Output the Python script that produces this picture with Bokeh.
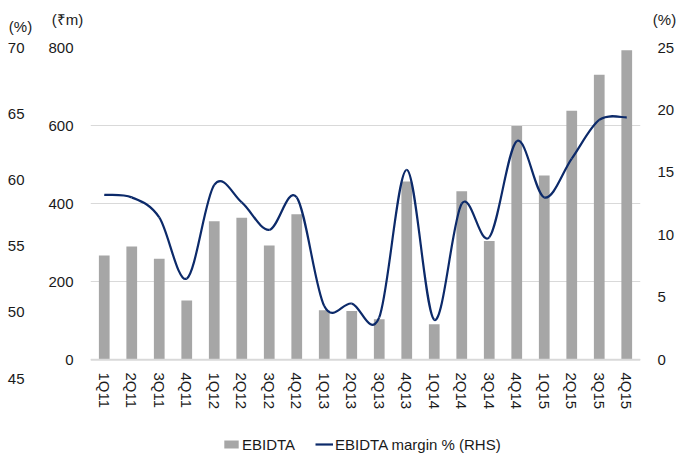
from bokeh.plotting import figure
from bokeh.layouts import column
from bokeh.models import (Range1d, LinearAxis, FixedTicker, Legend,
                          LegendItem, Span)
from bokeh.core.properties import value
from bokeh.embed import file_html
from bokeh.resources import INLINE

quarters = ["1Q11", "2Q11", "3Q11", "4Q11", "1Q12", "2Q12", "3Q12", "4Q12",
            "1Q13", "2Q13", "3Q13", "4Q13", "1Q14", "2Q14", "3Q14", "4Q14",
            "1Q15", "2Q15", "3Q15", "4Q15"]
ebidta = [267, 290, 259, 152, 355, 364, 293, 373, 127, 125, 104, 457,
          91, 432, 304, 599, 472, 638, 730, 793]
margin = [13.2, 13.0, 11.4, 6.5, 14.0, 12.6, 10.4, 13.0, 4.3, 4.5, 3.4, 15.2,
          3.2, 12.5, 9.8, 17.5, 13.0, 16.1, 19.2, 19.4]
lhs_ticks = [0, 200, 400, 600, 800]
rhs_ticks = [0, 5, 10, 15, 20, 25]
pct_ticks = [45, 50, 55, 60, 65, 70]
unit_labels = ["(%)", "(₹m)", "(%)"]
series_names = ["EBIDTA", "EBIDTA margin % (RHS)"]

FONT = "Liberation Sans"
FS = "15px"
TXT = "#1a1a1a"
BAR = "#a6a6a6"
LINE = "#0c2a6a"
W = 677
TOP_H = 38
BOT_H = 45

xs = list(range(len(quarters)))


def no_align(f):
    try:
        f.frame_align = False
    except Exception:
        pass


# ---------- top strip with unit labels ----------
top = figure(width=W, height=TOP_H, output_backend="svg", toolbar_location=None,
             x_range=Range1d(0, W), y_range=Range1d(TOP_H, 0),
             x_axis_type=None, y_axis_type=None, min_border=0)
no_align(top)
top.outline_line_color = None
top.grid.visible = False
top.text(x=[20, 67, 664], y=[26, 19, 19], text=unit_labels,
         text_font=value(FONT), text_font_size=FS, text_color=TXT,
         text_align="center", text_baseline="middle")

# ---------- main chart ----------
p = figure(width=W, height=459 - TOP_H - BOT_H, output_backend="svg",
           toolbar_location=None,
           x_range=Range1d(-0.5, len(quarters) - 0.5), y_range=Range1d(-48, 800),
           min_border_left=90, min_border_right=37, min_border_top=9,
           min_border_bottom=36)
p.outline_line_color = None
p.extra_y_ranges = {"rhs": Range1d(-1.5, 25), "pct": Range1d(45, 70)}

p.vbar(x=xs, top=ebidta, width=0.39, fill_color=BAR, line_color=None)

# smoothed line (bezier segments through the data points)
n = len(margin)
x0, y0, x1, y1, cx0, cy0, cx1, cy1 = [], [], [], [], [], [], [], []
for i in range(n - 1):
    a = max(i - 1, 0)
    d = min(i + 2, n - 1)
    x0.append(xs[i]); y0.append(margin[i])
    x1.append(xs[i + 1]); y1.append(margin[i + 1])
    cx0.append(xs[i] + (xs[i + 1] - xs[a]) / 6)
    cy0.append(margin[i] + (margin[i + 1] - margin[a]) / 6)
    cx1.append(xs[i + 1] - (xs[d] - xs[i]) / 6)
    cy1.append(margin[i + 1] - (margin[d] - margin[i]) / 6)
p.bezier(x0=x0, y0=y0, x1=x1, y1=y1, cx0=cx0, cy0=cy0, cx1=cx1, cy1=cy1,
         line_color=LINE, line_width=2.2, y_range_name="rhs")

p.xgrid.visible = False
p.ygrid.ticker = FixedTicker(ticks=lhs_ticks)
p.ygrid.grid_line_color = "#d9d9d9"
p.ygrid.grid_line_width = 1
p.add_layout(Span(location=0, dimension="width", line_color="#d9d9d9", line_width=2))


def style(ax, standoff):
    ax.axis_line_color = None
    ax.major_tick_line_color = None
    ax.minor_tick_line_color = None
    ax.major_tick_out = 0
    ax.major_tick_in = 0
    ax.major_label_text_font = FONT
    ax.major_label_text_font_size = FS
    ax.major_label_text_color = TXT
    ax.major_label_standoff = standoff


yax = p.yaxis[0]
yax.ticker = FixedTicker(ticks=lhs_ticks)
style(yax, 17)

pct_ax = LinearAxis(y_range_name="pct", ticker=FixedTicker(ticks=pct_ticks))
style(pct_ax, 21)
p.add_layout(pct_ax, "left")

rhs_ax = LinearAxis(y_range_name="rhs", ticker=FixedTicker(ticks=rhs_ticks))
style(rhs_ax, 17)
p.add_layout(rhs_ax, "right")

xax = p.xaxis[0]
xax.ticker = FixedTicker(ticks=xs)
xax.major_label_overrides = {i: q for i, q in enumerate(quarters)}
xax.major_label_orientation = "vertical"
style(xax, -6)

# ---------- bottom strip with legend ----------
bot = figure(width=W, height=BOT_H, output_backend="svg", toolbar_location=None,
             x_range=Range1d(-0.5, len(quarters) - 0.5), y_range=Range1d(0, 800),
             x_axis_type=None, y_axis_type=None, min_border=0)
no_align(bot)
bot.outline_line_color = None
bot.grid.visible = False
leg_bar = bot.vbar(x=xs, top=ebidta, width=0.39, fill_color=BAR,
                   line_color=None, visible=False)
leg_line = bot.line(x=xs, y=margin, line_color=LINE, line_width=2.2,
                    visible=False)
legend = Legend(items=[LegendItem(label=series_names[0], renderers=[leg_bar]),
                       LegendItem(label=series_names[1], renderers=[leg_line])],
                orientation="horizontal", location=(222, 5),
                glyph_width=18, glyph_height=10, label_standoff=2, spacing=20,
                padding=0, margin=0, border_line_color=None,
                background_fill_alpha=0, label_text_font=FONT,
                label_text_font_size=FS, label_text_color=TXT, label_height=20,
                inactive_fill_alpha=0)
bot.add_layout(legend)

open("out.html", "w").write(file_html(column(top, p, bot, spacing=0), INLINE))
